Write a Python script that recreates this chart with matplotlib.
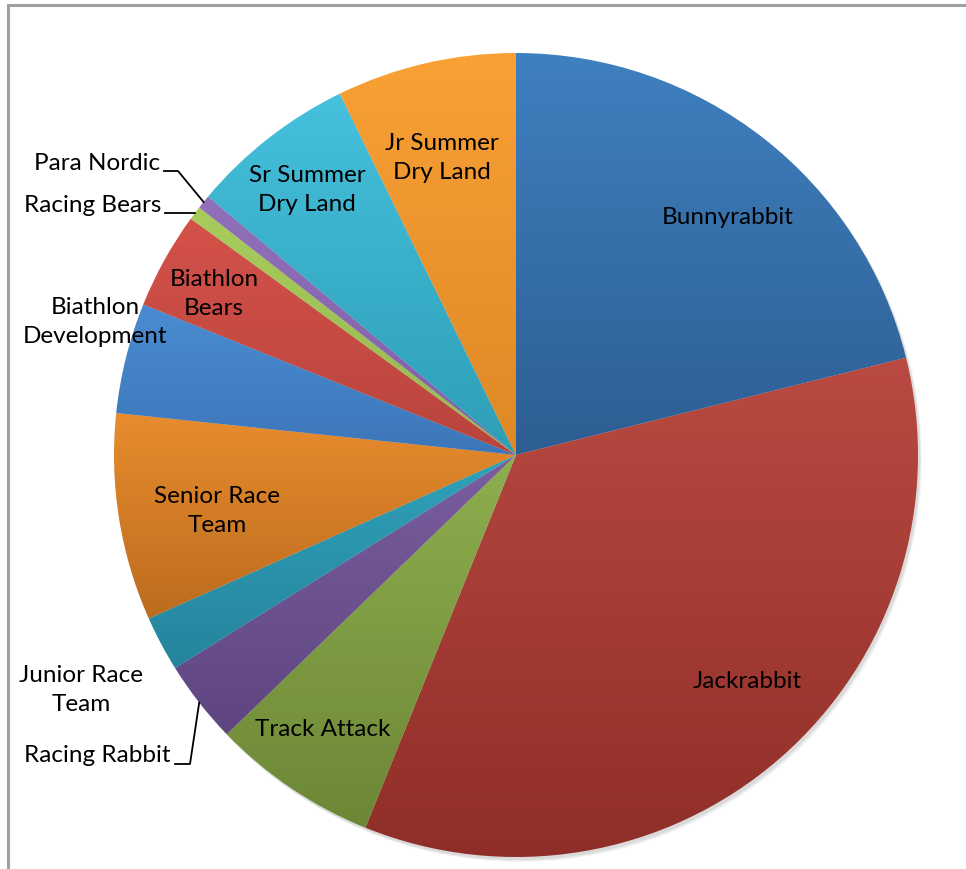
import numpy as np
import matplotlib.pyplot as plt
from matplotlib.colors import to_rgb

# datos (conteos por programa)
programs = ["Bunnyrabbit", "Jackrabbit", "Track Attack", "Racing Rabbit",
            "Junior Race\nTeam", "Senior Race\nTeam", "Biathlon\nDevelopment",
            "Biathlon\nBears", "Racing Bears", "Para Nordic",
            "Sr Summer\nDry Land", "Jr Summer\nDry Land"]
counts = [38, 63, 12, 6, 4, 15, 8, 7, 1, 1, 12, 13]

# colores tipo Excel 2007: (arriba, abajo) para cada porcion
top_colors = ["#3F80C0", "#BA4A42", "#8EAE4E", "#7A5E9E", "#2FA2BA", "#E88C2E",
              "#4A8CD2", "#D4524A", "#A8CC5C", "#9070B8", "#45C0DD", "#F9A135"]
bot_colors = ["#2D5E92", "#8F2E28", "#6C8736", "#5E4580", "#25849C", "#BC6C1E",
              "#3C76B8", "#B8443C", "#96B850", "#8060A8", "#2E9EB6", "#DE8827"]

# posiciones de etiquetas (pixeles de la imagen)
label_pos = [(728, 218), (747, 682), (323, 729), (95, 755), (81, 690),
             (217, 511), (95, 322), (214, 294), (87, 206), (95, 164),
             (307, 190), (442, 158)]
# etiquetas con linea guia: indice -> puntos del codo (pixeles)
leaders = {3: [(175, 764), (190, 764)],
           8: [(165, 213), (190, 213)],
           9: [(164, 171), (178, 171)]}

W, H = 966, 869
cx, cy, R = 516, H - 455, 402

plt.rcParams['font.family'] = ['Lato', 'DejaVu Sans']

fig = plt.figure(figsize=(W / 100, H / 100), dpi=100)
ax = fig.add_axes([0, 0, 1, 1])

# sombra suave
for k, a in enumerate([0.06, 0.05, 0.04]):
    sh = plt.Circle((cx + 2 + k, cy - 3 - k), R, color="black", alpha=a, lw=0)
    ax.add_patch(sh)

wedges, _ = ax.pie(counts, startangle=90, counterclock=False,
                   center=(cx, cy), radius=R, frame=True,
                   wedgeprops=dict(linewidth=0, facecolor="none"))

grad = np.linspace(0, 1, 256)[:, None]
for i, w in enumerate(wedges):
    top = np.array(to_rgb(top_colors[i]))
    bot = np.array(to_rgb(bot_colors[i]))
    img = bot[None, None, :] * (1 - grad[:, :, None]) + top[None, None, :] * grad[:, :, None]
    bb = w.get_path().get_extents()
    im = ax.imshow(img, extent=(bb.x0, bb.x1, bb.y0, bb.y1), origin="lower",
                   aspect="auto", interpolation="bilinear", zorder=2)
    im.set_clip_path(w)

for i, (name, (px, py)) in enumerate(zip(programs, label_pos)):
    ha = "center"
    tx = px
    if i in leaders:
        ha = "right"
        tx = leaders[i][0][0] - 4
    ax.text(tx, H - py, name, ha=ha, va="center", fontsize=17.5,
            color="black", linespacing=1.5, zorder=5)

for i, pts in leaders.items():
    w = wedges[i]
    mid = np.deg2rad((w.theta1 + w.theta2) / 2)
    ex = cx + R * np.cos(mid)
    ey = cy + R * np.sin(mid)
    xs = [p[0] for p in pts] + [ex]
    ys = [H - p[1] for p in pts] + [ey]
    ax.plot(xs, ys, color="black", lw=1.3, zorder=5)

# marco del area del grafico
ax.plot([8, 8, W + 5], [-5, H - 5, H - 5], color="#A0A0A0", lw=2.2, zorder=6,
        solid_joinstyle="miter")

ax.set_xlim(0, W)
ax.set_ylim(0, H)
ax.set_aspect("equal")
ax.axis("off")

fig.savefig("out.png", dpi=100)
